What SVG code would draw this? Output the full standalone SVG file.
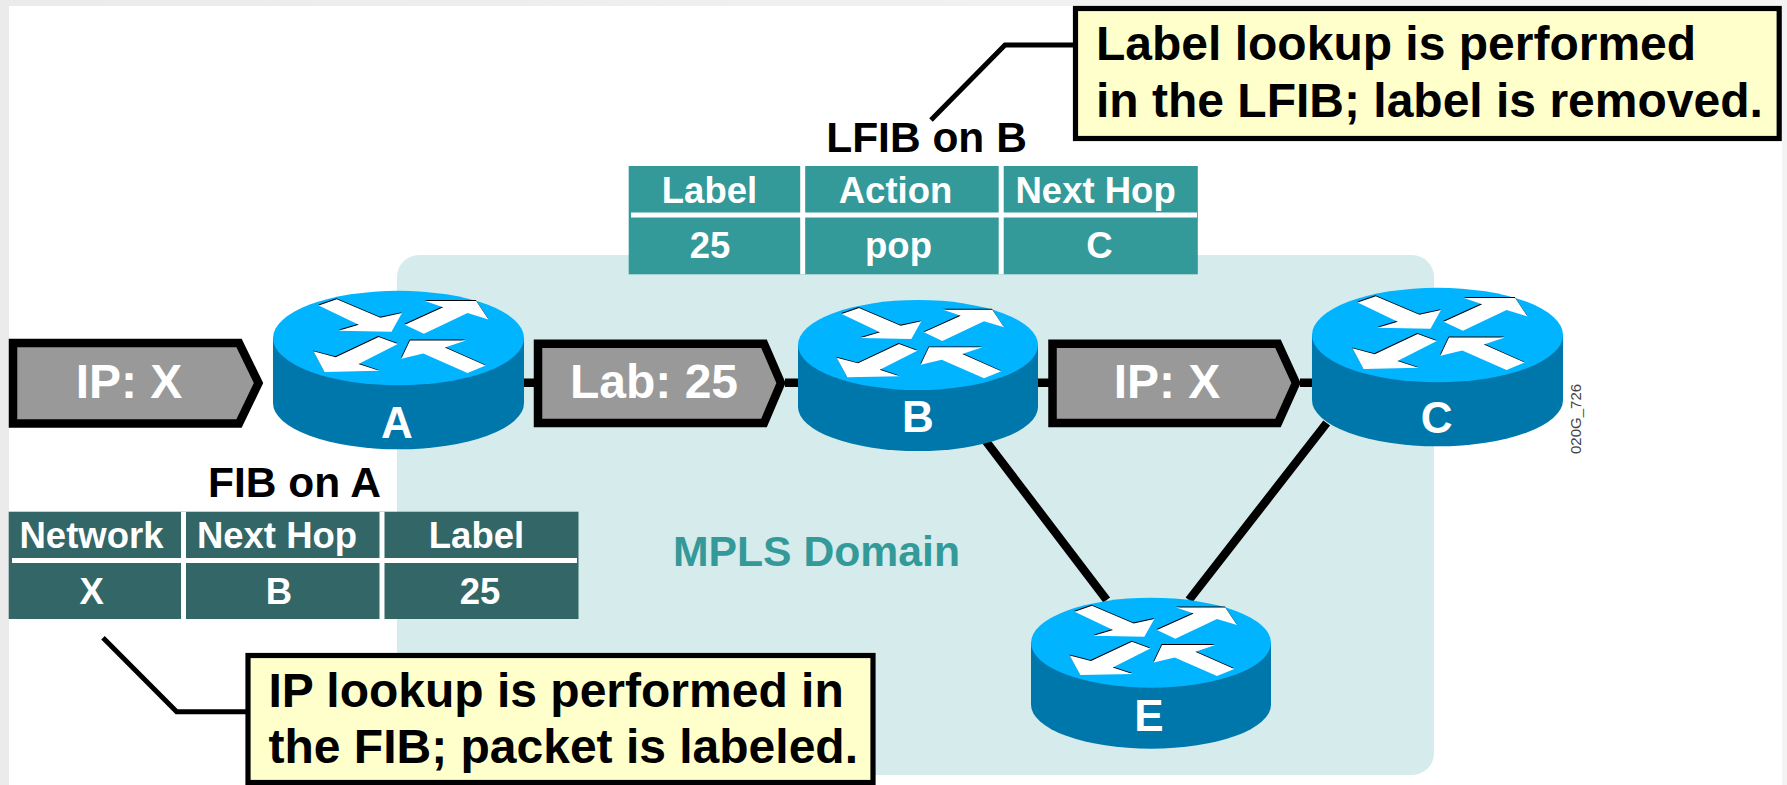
<svg xmlns="http://www.w3.org/2000/svg" width="1787" height="785" viewBox="0 0 1787 785">
<style>
text{font-family:"Liberation Sans",Arial,sans-serif;font-weight:bold}
.c{text-anchor:middle}
.tw{fill:#fff;font-size:36.5px}
.rl{fill:#fff;font-size:44px;text-anchor:middle}
.pk{fill:#999;stroke:#000;stroke-width:8.5;stroke-linejoin:miter}
.pt{fill:#fff;font-size:48px;text-anchor:middle}
.cap{fill:#000;font-size:42.500px;text-anchor:middle}
.box{fill:#ffc;stroke:#000;stroke-width:5.2}
.bt{fill:#000;font-size:48px}
.ln{fill:none;stroke:#000;stroke-width:8.500}
.lead{fill:none;stroke:#000;stroke-width:5}
.rule{stroke:#fff;fill:none}
</style>
<defs>
<linearGradient id="top-band" x1="0" x2="1" y1="0" y2="0"><stop offset="0" stop-color="#ebebeb"/><stop offset="1" stop-color="#f5f5f5"/></linearGradient>
<g id="arrows">
<polygon points="-76.3,-31 -59,-37 -17.3,-19.3 3.3,-23.7 -6.7,-6 -57.3,-7 -38,-12.7"/>
<polygon points="6,-12.7 42.7,-29.3 25.3,-35.3 74.3,-35.3 86,-17.7 66,-23.7 24.3,-4"/>
<polygon points="-0.7,5.7 -19,-1 -60,18.3 -81.3,12.7 -70.7,32.3 -18.3,31.3 -38.3,24.7"/>
<polygon points="2.7,19.7 11,2.3 64.3,2.3 44.3,9 83.3,26.3 66,33.3 23.7,14.7"/>
</g>
<g id="router">
<path d="M-120,0V62A120,44 0 0 0 120,62V0Z" fill="#0077aa"/>
<ellipse rx="120" ry="45" fill="#00b4ff"/>
<use href="#arrows" fill="#000" transform="translate(-.4,-.9)"/>
<use href="#arrows" fill="#fff"/>
</g>
</defs>
<rect width="1787" height="785" fill="#fff"/>
<rect x="0" y="0" width="1787" height="6" fill="url(#top-band)"/>
<rect x="0" y="0" width="9" height="785" fill="#ebebeb"/>
<rect x="1782" y="0" width="5" height="785" fill="#f3f3f3"/>
<rect id="mpls-domain" x="397" y="255" width="1037" height="520" rx="22" fill="#d5ebec"/>
<text x="816.500" y="566" class="c" font-size="42.700" fill="#339999">MPLS Domain</text>
<g id="connectors">
<path class="ln" d="M524,382.700H535M785,382.700H798M1038,382.700H1049M1300,382.700H1313"/>
<path class="ln" d="M985,440L1106.700,600M1326.700,423L1189,600"/>
<path class="lead" d="M103,637.700L176.700,711.700H248"/>
<path class="lead" d="M931,120L1005,45H1075"/>
</g>
<g id="packet-1"><polygon class="pk" points="13,343 239,343 258.500,383 239,423.500 13,423.500"/><text class="pt" x="129" y="397.700">IP: X</text></g>
<g id="packet-2"><polygon class="pk" points="538,343.700 764,343.700 781,383 764,423 538,423"/><text class="pt" x="654" y="397.700">Lab: 25</text></g>
<g id="packet-3"><polygon class="pk" points="1052.500,343.700 1278,343.700 1296,383 1278,423 1052.500,423"/><text class="pt" x="1167" y="397.700">IP: X</text></g>
<g id="router-a"><use href="#router" transform="translate(398.500,338) scale(1.046,1.05)"/><text class="rl" x="397" y="438">A</text></g>
<g id="router-b"><use href="#router" transform="translate(918,345)"/><text class="rl" x="918" y="431.700">B</text></g>
<g id="router-c"><use href="#router" transform="translate(1437.500,335) scale(1.046,1.05)"/><text class="rl" x="1436.600" y="433">C</text></g>
<g id="router-e"><use href="#router" transform="translate(1151,642.700)"/><text class="rl" x="1149" y="731">E</text></g>
<g id="fib-table">
<text class="cap" x="294.500" y="497">FIB on A</text>
<rect x="8.700" y="511.700" width="569.800" height="107.300" fill="#336666"/>
<path class="rule" stroke-width="5" d="M183.500,511.700V619M382,511.700V619"/>
<path class="rule" stroke-width="5" d="M12,560.500H577"/>
<text class="tw c" x="91.500" y="547.700">Network</text>
<text class="tw c" x="277" y="547.700">Next Hop</text>
<text class="tw c" x="476.500" y="547.700">Label</text>
<text class="tw c" x="91.700" y="604">X</text>
<text class="tw c" x="279" y="604">B</text>
<text class="tw c" x="480" y="604">25</text>
</g>
<g id="lfib-table">
<text class="cap" x="926.500" y="151.700">LFIB on B</text>
<rect x="628.700" y="166" width="569.100" height="108.300" fill="#339999"/>
<path class="rule" stroke-width="5" d="M802.700,166V274.300M1001.200,166V274.300"/>
<path class="rule" stroke-width="5" d="M631,215H1197"/>
<text class="tw c" x="709.500" y="203.300">Label</text>
<text class="tw c" x="895.500" y="203.300">Action</text>
<text class="tw c" x="1095.600" y="203.300">Next Hop</text>
<text class="tw c" x="710" y="258.300">25</text>
<text class="tw c" x="898.500" y="258.300">pop</text>
<text class="tw c" x="1099.400" y="258.300">C</text>
</g>
<g id="callout-fib"><rect class="box" x="248" y="655.500" width="625" height="127"/>
<text class="bt" x="268.500" y="706.700">IP lookup is performed in</text>
<text class="bt" x="268.500" y="763">the FIB; packet is labeled.</text></g>
<g id="callout-lfib"><rect class="box" x="1075.500" y="8.500" width="703.700" height="130"/>
<text class="bt" x="1096" y="60">Label lookup is performed</text>
<text class="bt" x="1096" y="117">in the LFIB; label is removed.</text></g>
<text x="1581" y="454" transform="rotate(-90 1581 454)" font-size="15" fill="#444" style="font-weight:normal">020G_726</text>
</svg>
